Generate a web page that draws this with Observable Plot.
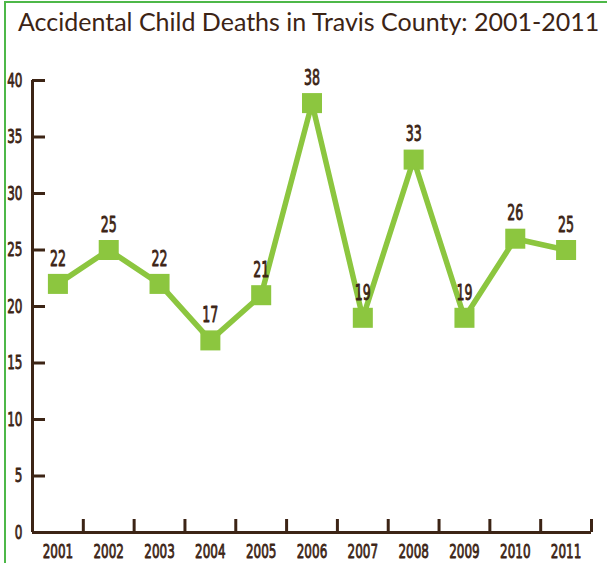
<!DOCTYPE html>
<html>
<head>
<meta charset="utf-8">
<script src="https://cdn.jsdelivr.net/npm/d3@7"></script>
<script src="https://cdn.jsdelivr.net/npm/@observablehq/plot@0.6"></script>
<style>
  html, body { margin: 0; padding: 0; background: #fff; overflow: hidden; width: 607px; height: 563px; }
  #wrap { position: relative; width: 607px; height: 563px; }
  #border { position: absolute; left: 4px; top: 1px; width: 700px; height: 700px; border: 2px solid #4db848; box-sizing: border-box; }
  #title { position: absolute; left: 18px; top: 6px; font-family: Lato, "Open Sans", sans-serif; font-size: 25px; color: #3c2415; white-space: nowrap; }
  #chart { position: absolute; left: 0; top: 45px; }
</style>
</head>
<body>
<div id="wrap">
  <div id="border"></div>
  <div id="title">Accidental Child Deaths in Travis County: 2001-2011</div>
  <div id="chart"></div>
</div>
<script>
const years = [2001, 2002, 2003, 2004, 2005, 2006, 2007, 2008, 2009, 2010, 2011];
const deaths = [22, 25, 22, 17, 21, 38, 19, 33, 19, 26, 25];
const yTicks = [0, 5, 10, 15, 20, 25, 30, 35, 40];

const data = years.map((y, i) => ({year: y, value: deaths[i]}));
const boundaries = years.map(y => y + 0.5);

const brown = "#3c2415";
const green = "#8cc63f";
const numFont = '"DejaVu Sans", sans-serif';

const chart = Plot.plot({
  width: 607,
  height: 518,
  marginLeft: 32,
  marginRight: 16,
  marginTop: 35,
  marginBottom: 31,
  style: {fontFamily: numFont, color: brown, background: "transparent"},
  x: {domain: [years[0] - 0.5, years[years.length - 1] + 0.5], axis: null},
  y: {domain: [0, 40], axis: null},
  marks: [
    Plot.axisY({ticks: yTicks, label: null, tickSize: -13, tickPadding: 23, strokeWidth: 3, stroke: brown, fill: brown, fontSize: 20, tickFormat: d => d, textAnchor: "end"}),
    Plot.axisX({ticks: boundaries, label: null, tickSize: -13, strokeWidth: 3, stroke: brown, tickFormat: () => ""}),
    Plot.axisX({ticks: years, label: null, tickSize: 0, tickPadding: 11, fill: brown, fontSize: 20, tickFormat: d => String(d)}),
    Plot.ruleX([years[0] - 0.5], {stroke: brown, strokeWidth: 3}),
    Plot.ruleY([0], {stroke: brown, strokeWidth: 3}),
    Plot.line(data, {x: "year", y: "value", stroke: green, strokeWidth: 5.5}),
    Plot.dot(data, {x: "year", y: "value", symbol: "square", r: 11.3, fill: green, stroke: "none"}),
    Plot.text(data, {x: "year", y: "value", text: d => String(d.value), dy: -25, fill: brown, fontSize: 21})
  ]
});
// condense the numeric labels horizontally around their anchor point, and thicken strokes slightly
chart.querySelectorAll("text").forEach(t => {
  const tr = t.getAttribute("transform");
  if (tr) {
    t.setAttribute("transform", tr + " scale(0.6,1)");
  } else {
    const x = +(t.getAttribute("x") || 0), y = +(t.getAttribute("y") || 0);
    t.removeAttribute("x"); t.removeAttribute("y");
    t.setAttribute("transform", `translate(${x},${y}) scale(0.6,1)`);
  }
  t.style.stroke = brown;
  t.style.strokeWidth = "0.9px";
  t.style.strokeLinejoin = "round";
});
document.getElementById("chart").appendChild(chart);
</script>
</body>
</html>
